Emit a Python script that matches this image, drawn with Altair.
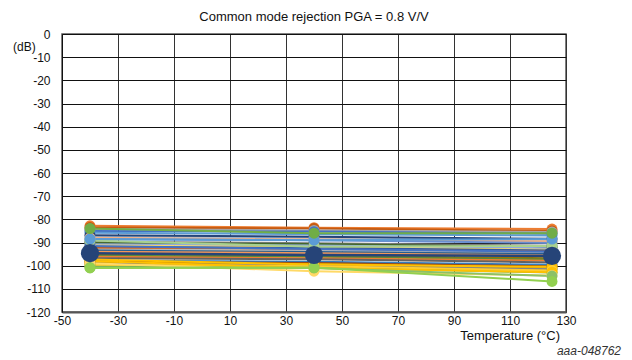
import altair as alt
import pandas as pd

temps = [-40, 40, 125]

colors = ["#ED7D31", "#C55A11", "#A5A5A5", "#4472C4", "#5B9BD5", "#9DC3E6", "#264478",
          "#F4B183", "#698ED0", "#7F7F7F", "#43682B", "#8FAADC", "#FFD966", "#335AA1",
          "#D26012", "#B7B7B7", "#255E91", "#F1975A", "#4472C4", "#997300", "#5A8A39",
          "#ED7D31", "#636363", "#327DC2", "#9E480E", "#CC9A00", "#848484", "#70AD47",
          "#FFC000", "#FFCD33", "#FFC000", "#FFD966", "#8CC168", "#92D050", "#A9D18E",
          "#5B9BD5", "#70AD47"]
at_m40 = [-82.8, -83.5, -84.2, -85.0, -85.8, -87.4, -86.9, -88.0, -88.6, -89.7, -90.2, -90.8,
          -91.3, -91.9, -92.4, -93.0, -93.5, -94.0, -91.5, -95.1, -95.7, -96.2, -96.8, -97.8,
          -98.3, -98.8, -99.2, -100.1, -97.3, -99.6, -98.0, -99.0, -100.8, -101.0, -89.1,
          -88.5, -84.0]
at_40 = [-83.6, -84.0, -84.8, -85.3, -86.4, -87.9, -87.5, -88.6, -89.0, -90.3, -90.7, -91.3,
         -92.0, -92.4, -93.0, -93.4, -94.1, -94.6, -92.8, -95.7, -96.1, -96.8, -97.2, -98.3,
         -98.9, -99.3, -99.8, -100.6, -99.5, -100.2, -101.0, -102.4, -101.0, -100.8, -91.8,
         -89.0, -86.0]
at_125 = [-84.2, -85.0, -85.5, -86.2, -87.0, -88.9, -88.4, -89.5, -90.2, -91.4, -92.0, -92.5,
          -93.1, -93.4, -94.0, -94.5, -95.0, -95.6, -94.0, -96.8, -97.3, -97.9, -98.6, -99.6,
          -100.3, -100.9, -101.5, -103.0, -100.5, -102.1, -102.8, -104.2, -104.5, -106.8,
          -91.5, -88.5, -86.0]

mean_vals = [-94.6, -95.4, -95.8]
mean_color = "#264478"

x_ticks = [-50, -30, -10, 10, 30, 50, 70, 90, 110, 130]
y_ticks = [0, -10, -20, -30, -40, -50, -60, -70, -80, -90, -100, -110, -120]

rows = []
order = 0
for i, c in enumerate(colors):
    for t, v in zip(temps, [at_m40[i], at_40[i], at_125[i]]):
        rows.append({"series": f"s{i}", "t": t, "v": v, "c": c, "o": order})
        order += 1
df = pd.DataFrame(rows)
mdf = pd.DataFrame({"series": ["mean"] * 3, "t": temps, "v": mean_vals, "c": [mean_color] * 3})

FONT = "Liberation Sans"
xs = alt.Scale(domain=[-50, 130], nice=False, zero=False)
ys = alt.Scale(domain=[-120, 0], nice=False, zero=False)

xaxis = alt.Axis(values=x_ticks, title=None, grid=True, gridColor="#333", ticks=False,
                 labelPadding=3, labelFontSize=12, labelFont=FONT, labelColor="#111",
                 domainColor="#555", domainWidth=2, labelFlush=False,
                 labelExpr="'' + datum.value")
yaxis = alt.Axis(values=y_ticks, title=None, grid=True, gridColor="#111", ticks=False,
                 labelPadding=12, labelFontSize=12, labelFont=FONT, labelColor="#111",
                 domainColor="#111", labelFlush=False, labelOverlap=False,
                 labelExpr="'' + datum.value")


def enc(ch):
    return ch.encode(x=alt.X("t:Q", scale=xs, axis=xaxis),
                     y=alt.Y("v:Q", scale=ys, axis=yaxis),
                     color=alt.Color("c:N", scale=None))


lines = enc(alt.Chart(df).mark_line(strokeWidth=2)).encode(detail="series:N")
pts = enc(alt.Chart(df).mark_circle(size=120, opacity=1)).encode(order="o:Q")
mline = enc(alt.Chart(mdf).mark_line(strokeWidth=2.5))
mpts = enc(alt.Chart(mdf).mark_circle(size=330, opacity=1))


def label(txt, x, y, align, size, style="normal", color="#111"):
    return alt.Chart(pd.DataFrame({"t": [txt]})).mark_text(
        align=align, baseline="alphabetic", fontSize=size, font=FONT, fontStyle=style,
        color=color).encode(x=alt.value(x), y=alt.value(y), text="t:N")


title = label("Common mode rejection PGA = 0.8 V/V", 252, -13, "center", 13)
db = label("(dB)", -49, 17, "left", 12)
xt = label("Temperature (°C)", 498, 306, "right", 13)
code = label("aaa-048762", 559, 321, "right", 12, "italic", "#333")

chart = alt.layer(lines, pts, mline, mpts, title, db, xt, code).properties(
    width=504, height=278,
    autosize=alt.AutoSizeParams(type="none"),
    padding={"left": 54, "top": 26, "right": 58, "bottom": 48},
).configure_view(stroke="#555", strokeWidth=1.5)

chart.save("out.html", embed_options={"renderer": "svg", "actions": False})
